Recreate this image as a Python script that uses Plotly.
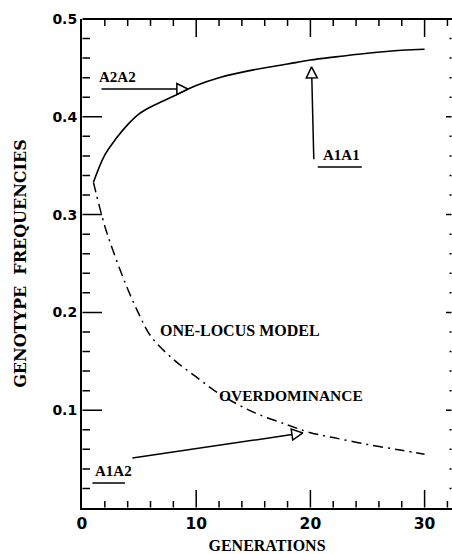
import plotly.graph_objects as go
import math

# ---- data ----
generations = [1, 2, 3, 4, 5, 6, 8, 10, 12, 15, 18, 20, 22, 25, 28, 30]
homozygote_freq = [0.333, 0.361, 0.378, 0.392, 0.403, 0.410, 0.421, 0.432, 0.440,
                   0.448, 0.454, 0.458, 0.461, 0.465, 0.468, 0.469]
heterozygote_freq = [0.333, 0.288, 0.254, 0.224, 0.198, 0.176, 0.152, 0.134, 0.117,
                     0.098, 0.085, 0.077, 0.072, 0.065, 0.059, 0.055]
x_tick_vals = [0, 10, 20, 30]
x_tick_text = ["0", "10", "20", "30"]
x_minor_vals = [2, 4, 6, 8, 12, 14, 16, 18, 22, 24, 26, 28, 32]
y_tick_vals = [0.1, 0.2, 0.3, 0.4, 0.5]
y_tick_text = ["0.1", "0.2", "0.3", "0.4", "0.5"]
y_minor_vals = [0.02, 0.04, 0.06, 0.08, 0.12, 0.14, 0.16, 0.18, 0.22, 0.24, 0.26, 0.28,
                0.32, 0.34, 0.36, 0.38, 0.42, 0.44, 0.46, 0.48]

W, H = 452, 554
ML, MT, MR, MB = 82, 19, 0, 46
XMAX, YMAX = 32.4, 0.5
PW, PH = W - ML - MR, H - MT - MB

SERIF = "Liberation Serif, DejaVu Serif, serif"
fig = go.Figure()

fig.add_trace(go.Scatter(x=generations, y=homozygote_freq, mode="lines",
                         line=dict(color="black", width=1.6, shape="spline"),
                         showlegend=False, hoverinfo="skip"))
fig.add_trace(go.Scatter(x=generations, y=heterozygote_freq, mode="lines",
                         line=dict(color="black", width=1.5, shape="spline",
                                   dash="10px,5px,2px,5px"),
                         showlegend=False, hoverinfo="skip"))

sx = PW / XMAX
sy = PH / YMAX


def seg(x0, y0, x1, y1, w=1.5, standoff=0):
    # straight segment in data coordinates, drawn as a head-less annotation arrow
    return dict(x=x1, y=y1, ax=x0, ay=y0, xref="x", yref="y", axref="x", ayref="y",
                text="", font=dict(size=1), borderpad=0, showarrow=True, arrowhead=0,
                arrowwidth=w, arrowcolor="black", standoff=standoff)


arrows = [
    # (tail, tip)
    ((1.66, 0.4284), (9.27, 0.4284)),
    ((20.3, 0.356), (20.1, 0.451)),
    ((4.37, 0.0511), (19.34, 0.0767)),
]
HEAD = 11
annotations = []
for tail, tip in arrows:
    dxp = (tip[0] - tail[0]) * sx
    dyp = (tip[1] - tail[1]) * sy
    ang = -math.degrees(math.atan2(dyp, dxp))
    fig.add_trace(go.Scatter(x=[tip[0]], y=[tip[1]], mode="markers",
                             marker=dict(symbol="arrow-right", size=HEAD, angle=ang,
                                         color="white",
                                         line=dict(color="black", width=1.5)),
                             showlegend=False, hoverinfo="skip", cliponaxis=False))
    annotations.append(seg(tail[0], tail[1], tip[0], tip[1], 1.5, HEAD))

# underlines
annotations.append(seg(20.6, 0.3487, 24.5, 0.3487))
annotations.append(seg(0.87, 0.0256, 3.76, 0.0256))

labels = [
    ("A2A2", 3.1, 0.4407, 15),
    ("A1A1", 22.7, 0.361, 15),
    ("A1A2", 2.76, 0.0378, 15),
    ("ONE-LOCUS MODEL", 13.82, 0.181, 16),
    ("OVERDOMINANCE", 18.29, 0.1155, 15.5),
]
for txt, x, y, fs in labels:
    annotations.append(dict(x=x, y=y, xref="x", yref="y", text="<b>%s</b>" % txt,
                            showarrow=False, font=dict(family=SERIF, size=fs, color="black")))

# top frame line
annotations.append(seg(0, YMAX, XMAX, YMAX, 2))
# inward tick marks on all four sides (lengths in pixels converted to data units)
for vals, ln in [(x_tick_vals[1:], 18), (x_minor_vals, 7)]:
    for v in vals:
        annotations.append(seg(v, 0, v, ln / sy))
        annotations.append(seg(v, YMAX, v, YMAX - ln / sy))
for vals, ln_left, ln_right in [(y_tick_vals[:-1], 20, 6), (y_minor_vals, 8, 2.5)]:
    for v in vals:
        annotations.append(seg(0, v, ln_left / sx, v))
        annotations.append(seg(XMAX, v, XMAX - ln_right / sx, v))

fig.update_layout(
    width=W, height=H,
    margin=dict(l=ML, t=MT, r=MR, b=MB),
    paper_bgcolor="white", plot_bgcolor="white",
    annotations=annotations,
    xaxis=dict(range=[0, XMAX], tickmode="array", tickvals=x_tick_vals,
               ticktext=["<b>%s</b>" % t for t in x_tick_text],
               ticks="", showline=True, linewidth=2, linecolor="black",
               showgrid=False, zeroline=False,
               tickfont=dict(family="DejaVu Sans", size=15.5, color="black"),
               title=dict(text="<b>GENERATIONS</b>", standoff=10,
                          font=dict(family=SERIF, size=16, color="black"))),
    yaxis=dict(range=[0, YMAX], tickmode="array", tickvals=y_tick_vals,
               ticktext=["<b>%s</b>" % t for t in y_tick_text],
               ticks="", showline=True, linewidth=2, linecolor="black",
               showgrid=False, zeroline=False,
               tickfont=dict(family="DejaVu Sans", size=14, color="black"),
               title=dict(text="<b>GENOTYPE  FREQUENCIES</b>", standoff=22,
                          font=dict(family="DejaVu Serif", size=16, color="black"))),
)

fig.write_html("out.html")
